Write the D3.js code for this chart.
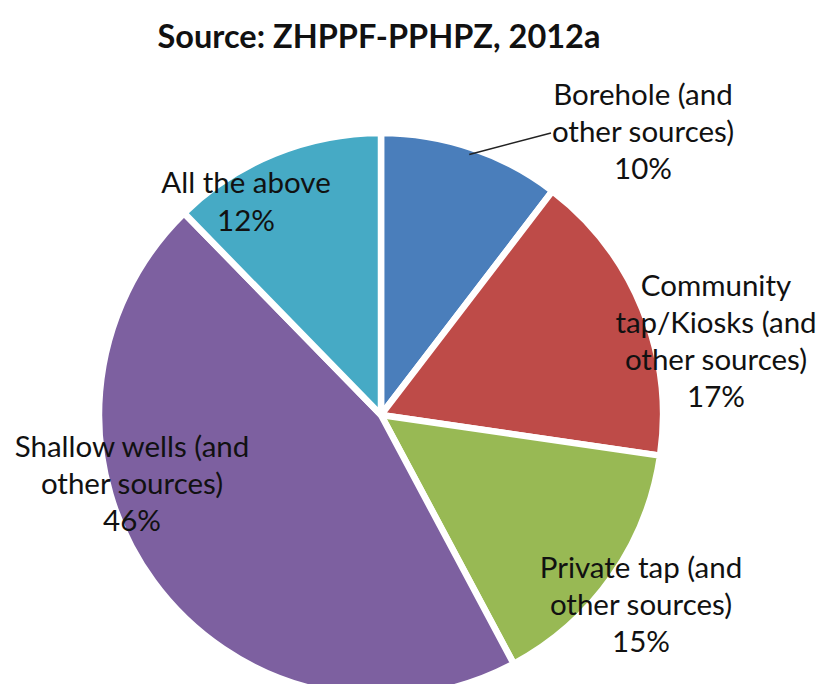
<!DOCTYPE html>
<html>
<head>
<meta charset="utf-8">
<script src="https://cdn.jsdelivr.net/npm/d3@7"></script>
<style>
  html, body { margin: 0; padding: 0; background: #fff; }
  text { font-family: Lato, "Open Sans", sans-serif; fill: #111; }
</style>
</head>
<body>
<svg id="chart" width="819" height="684"></svg>
<script>
// data
const categories = ["Borehole", "Community tap/Kiosks", "Private tap", "Shallow wells", "All the above"]
const shares = [10.4, 16.9, 14.9, 45.5, 12.3]
const labelLines = [
  ["Borehole (and", "other sources)"],
  ["Community", "tap/Kiosks (and", "other sources)"],
  ["Private tap (and", "other sources)"],
  ["Shallow wells (and", "other sources)"],
  ["All the above"]
]
const colors = ["#4A7EBB", "#BE4B48", "#98B954", "#7D60A0", "#46AAC5"]
const title = "Source: ZHPPF-PPHPZ, 2012a"

const width = 819
const height = 684
const center = { x: 381, y: 415 }
const radius = 282
const lineHeight = 37
const fontSize = 29.5

// where each label block sits (center x, first baseline)
const labelPos = [
  { x: 643, y: 105 },
  { x: 716, y: 296 },
  { x: 641, y: 578 },
  { x: 132, y: 457 },
  { x: 246, y: 193 }
]

const svg = d3.select('#chart')

svg.append('text')
  .attr('x', 379)
  .attr('y', 48)
  .attr('text-anchor', 'middle')
  .style('font-weight', 'bold')
  .style('font-size', '32.5px')
  .text(title)

const slices = categories.map((c, i) => ({ name: c, value: shares[i], color: colors[i], lines: labelLines[i] }))

const pie = d3.pie()
  .sort(null)
  .value(d => d.value)

const arc = d3.arc()
  .innerRadius(0)
  .outerRadius(radius)

const g = svg.append('g')
  .attr('transform', `translate(${center.x},${center.y})`)

const arcs = pie(slices)

g.selectAll('path').data(arcs)
  .enter().append('path')
  .attr('d', arc)
  .attr('fill', d => d.data.color)
  .attr('stroke', '#fff')
  .attr('stroke-width', 6.5)
  .attr('stroke-linejoin', 'round')

// leader line for the borehole label
const edgeArc = d3.arc().innerRadius(radius - 7).outerRadius(radius - 7)
const start = edgeArc.centroid(arcs[0])
const endPt = [labelPos[0].x - 92 - center.x, labelPos[0].y + lineHeight - 9 - center.y]
g.append('line')
  .attr('x1', start[0])
  .attr('y1', start[1])
  .attr('x2', endPt[0])
  .attr('y2', endPt[1])
  .attr('stroke', '#222')
  .attr('stroke-width', 1.5)

// labels
const labels = svg.selectAll('.lbl').data(arcs)
  .enter().append('text')
  .attr('class', 'lbl')
  .attr('text-anchor', 'middle')
  .style('font-size', fontSize + 'px')

labels.each(function(d, i) {
  const t = d3.select(this)
  const lines = d.data.lines.concat([Math.round(d.data.value) + '%'])
  lines.forEach((l, k) => {
    t.append('tspan')
      .attr('x', labelPos[i].x)
      .attr('y', labelPos[i].y + k * (i === 4 ? 38 : lineHeight))
      .text(l)
  })
})
</script>
</body>
</html>
